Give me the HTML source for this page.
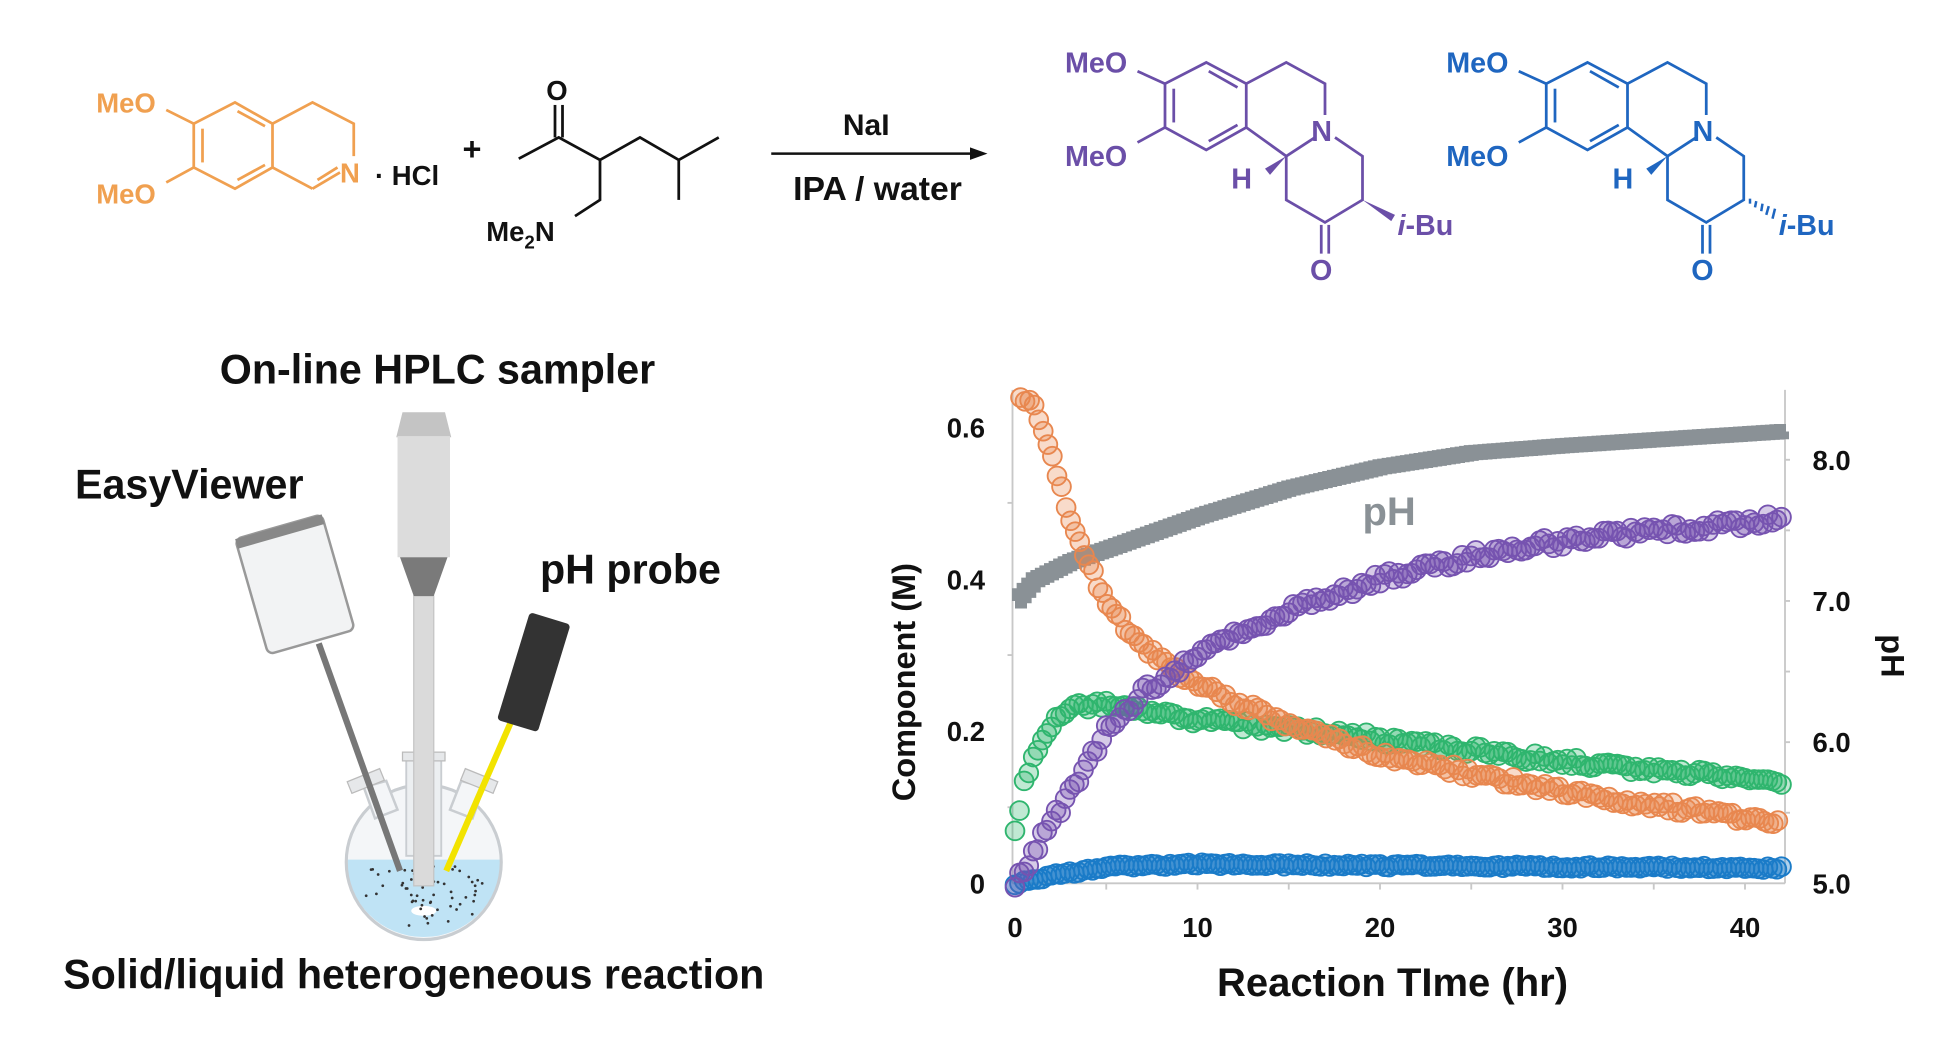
<!DOCTYPE html>
<html><head><meta charset="utf-8"><style>
html,body{margin:0;padding:0;background:#fff;}
svg{display:block;font-family:"Liberation Sans",Arial,sans-serif;font-weight:bold;}
</style></head><body>
<svg id="s" width="1950" height="1052" viewBox="0 0 1560 842" preserveAspectRatio="none" xmlns="http://www.w3.org/2000/svg">
<rect width="1560" height="842" fill="#fff"/>
<!-- orange reactant -->
<g stroke="#f0a050" stroke-width="2.2" fill="none">
<polygon points="155,99 188,82 218,99 218,134 188,151 155,134"/>
<line x1="162" y1="103" x2="162" y2="130"/><line x1="190" y1="89" x2="212" y2="101"/><line x1="190" y1="144" x2="212" y2="132"/>
<polyline points="218,99 250,82 283,99 283,125"/>
<line x1="218" y1="134" x2="250" y2="151"/><line x1="250" y1="151" x2="272" y2="138"/><line x1="254" y1="144" x2="270" y2="134"/>
<line x1="133" y1="88" x2="155" y2="99"/><line x1="133" y1="146" x2="155" y2="134"/>
</g>
<g fill="#f0a050" font-size="22"><text x="77" y="90">MeO</text><text x="77" y="163">MeO</text><text x="272" y="146">N</text></g>
<text x="300" y="148" font-size="22" fill="#111">· HCl</text>
<text x="370" y="128" font-size="26" fill="#111">+</text>
<!-- ketone -->
<g stroke="#111" stroke-width="2.2" fill="none">
<line x1="444" y1="84" x2="444" y2="110"/><line x1="450" y1="84" x2="450" y2="110"/>
<polyline points="415,127 447,110 480,128 512,110 543,128 575,110"/>
<line x1="543" y1="128" x2="543" y2="160"/>
<polyline points="480,128 480,160 460,173"/>
</g>
<text x="437" y="80" font-size="22" fill="#111">O</text>
<text x="389" y="193" font-size="22" fill="#111">Me<tspan font-size="15" dy="6">2</tspan><tspan dy="-6">N</tspan></text>
<!-- arrow -->
<line x1="617" y1="123" x2="780" y2="123" stroke="#111" stroke-width="2"/>
<polygon points="790,123 776,118 776,128" fill="#111"/>
<text x="693" y="108" font-size="24" fill="#111" text-anchor="middle">NaI</text>
<text x="702" y="160" font-size="27" fill="#111" text-anchor="middle">IPA / water</text>
<!-- products -->
<g stroke="#6b4fa8" stroke-width="2.2" fill="none">
<polygon points="932,67 965,50 997,67 997,102 965,120 932,102"/>
<line x1="939" y1="71" x2="939" y2="98"/><line x1="967" y1="57" x2="990" y2="70"/><line x1="967" y1="113" x2="990" y2="100"/>
<polyline points="997,67 1029,50 1060,67 1060,92"/>
<polyline points="1052,110 1029,125 997,102"/>
<polyline points="1068,110 1090,125 1090,160 1060,178 1029,160 1029,125"/>
<line x1="1057" y1="180" x2="1057" y2="203"/><line x1="1063" y1="180" x2="1063" y2="203"/>
<line x1="910" y1="57" x2="932" y2="67"/><line x1="910" y1="114" x2="932" y2="102"/>
</g>
<polygon points="1029,125 1012,135 1016,140" fill="#6b4fa8"/>
<polygon points="1090,160 1116,172 1113,177" fill="#6b4fa8"/>
<g fill="#6b4fa8" font-size="23"><text x="852" y="58">MeO</text><text x="852" y="133">MeO</text><text x="1049" y="113">N</text><text x="985" y="151">H</text><text x="1048" y="224">O</text><text x="1118" y="188"><tspan font-style="italic">i</tspan>-Bu</text></g>
<g transform="translate(305,0)">
<g stroke="#1f66c0" stroke-width="2.2" fill="none">
<polygon points="932,67 965,50 997,67 997,102 965,120 932,102"/>
<line x1="939" y1="71" x2="939" y2="98"/><line x1="967" y1="57" x2="990" y2="70"/><line x1="967" y1="113" x2="990" y2="100"/>
<polyline points="997,67 1029,50 1060,67 1060,92"/>
<polyline points="1052,110 1029,125 997,102"/>
<polyline points="1068,110 1090,125 1090,160 1060,178 1029,160 1029,125"/>
<line x1="1057" y1="180" x2="1057" y2="203"/><line x1="1063" y1="180" x2="1063" y2="203"/>
<line x1="910" y1="57" x2="932" y2="67"/><line x1="910" y1="114" x2="932" y2="102"/>
<g stroke-width="2"><line x1="1095" y1="159" x2="1095" y2="163"/><line x1="1100" y1="161" x2="1099" y2="166"/><line x1="1105" y1="163" x2="1104" y2="169"/><line x1="1110" y1="165" x2="1108" y2="172"/><line x1="1115" y1="167" x2="1113" y2="175"/></g>
</g>
<polygon points="1029,125 1012,135 1016,140" fill="#1f66c0"/>
<g fill="#1f66c0" font-size="23"><text x="852" y="58">MeO</text><text x="852" y="133">MeO</text><text x="1049" y="113">N</text><text x="985" y="151">H</text><text x="1048" y="224">O</text><text x="1118" y="188"><tspan font-style="italic">i</tspan>-Bu</text></g>
</g>
<!-- apparatus -->
<text x="350" y="307" font-size="33" fill="#111" text-anchor="middle">On-line HPLC sampler</text>
<text x="60" y="399" font-size="33" fill="#111">EasyViewer</text>
<text x="432" y="467" font-size="33" fill="#111">pH probe</text>
<text x="331" y="791" font-size="33" fill="#111" text-anchor="middle">Solid/liquid heterogeneous reaction</text>
<g>
<circle cx="339" cy="690" r="62" fill="#f4f6f8"/>
<path d="M277,688 L401,688 A62,62 0 0 1 277,688 Z" fill="#bfe3f5"/>
<circle cx="339" cy="690" r="62" fill="none" stroke="#c9cdd1" stroke-width="2.5"/>
<polygon points="291,630 309,625 318,648 300,655" fill="#f4f6f8" stroke="#c9cdd1" stroke-width="2"/>
<polygon points="369,625 387,630 378,655 360,648" fill="#f4f6f8" stroke="#c9cdd1" stroke-width="2"/>
<ellipse cx="339" cy="729" rx="10" ry="4" fill="#fff"/>
<rect x="325" y="605" width="28" height="80" fill="#eceff1" stroke="#c9cdd1" stroke-width="1.5"/>
<rect x="322" y="602" width="34" height="7" fill="#e6e8ea" stroke="#bbb"/>
<g transform="rotate(-22 293 626)"><rect x="279" y="620" width="28" height="10" fill="#e6e8ea" stroke="#bbb"/></g>
<g transform="rotate(22 383 626)"><rect x="369" y="620" width="28" height="10" fill="#e6e8ea" stroke="#bbb"/></g>
<g fill="#333" id="dots"></g>
<line x1="255" y1="515" x2="320" y2="697" stroke="#777" stroke-width="5"/>
<g transform="rotate(-16 235 468)"><rect x="200" y="420" width="72" height="96" rx="5" fill="#f2f3f4" stroke="#999" stroke-width="2"/><rect x="200" y="420" width="72" height="8" fill="#888"/></g>
<line x1="410" y1="575" x2="357" y2="697" stroke="#f2e300" stroke-width="5"/>
<g transform="rotate(17 427 538)"><rect x="410" y="493" width="34" height="90" rx="3" fill="#333"/></g>
<rect x="331" y="477" width="16" height="232" fill="#dadada" stroke="#c4c4c4"/>
<polygon points="322,330 356,330 361,350 317,350" fill="#c4c4c4"/>
<rect x="318" y="349" width="42" height="97" fill="#dcdcdc"/>
<polygon points="320,446 358,446 347,477 331,477" fill="#7a7a7a"/>
</g>
<!-- chart -->
<g stroke="#c8c8c8" stroke-width="1.5">
<line x1="810" y1="312" x2="810" y2="707"/><line x1="1428" y1="312" x2="1428" y2="707"/><line x1="810" y1="707" x2="1428" y2="707"/>
</g>
<g id="ticks" stroke="#c8c8c8" stroke-width="1.5"></g>
<g font-size="22" fill="#111" text-anchor="end"><text x="788" y="350">0.6</text><text x="788" y="472">0.4</text><text x="788" y="593">0.2</text><text x="788" y="715">0</text></g>
<g font-size="22" fill="#111"><text x="1450" y="376">8.0</text><text x="1450" y="489">7.0</text><text x="1450" y="602">6.0</text><text x="1450" y="715">5.0</text></g>
<g font-size="22" fill="#111" text-anchor="middle"><text x="812" y="750">0</text><text x="958" y="750">10</text><text x="1104" y="750">20</text><text x="1250" y="750">30</text><text x="1396" y="750">40</text></g>
<text x="1114" y="797" font-size="32" fill="#111" text-anchor="middle">Reaction TIme (hr)</text>
<text transform="translate(732,546) rotate(-90)" font-size="26" fill="#111" text-anchor="middle">Component (M)</text>
<text transform="translate(1505,525) rotate(90)" font-size="26" fill="#111" text-anchor="middle">pH</text>
<g id="series"></g>
<text x="1090" y="420" font-size="32" fill="#8a9196">pH</text>
</svg>
<script>
var NS="http://www.w3.org/2000/svg";
function el(t,a,p){var e=document.createElementNS(NS,t);for(var k in a)e.setAttribute(k,a[k]);p.appendChild(e);return e;}
function interp(pts,t){if(t<=pts[0][0])return pts[0][1];for(var i=1;i<pts.length;i++){if(t<=pts[i][0]){var a=pts[i-1],b=pts[i];return a[1]+(b[1]-a[1])*(t-a[0])/(b[0]-a[0]);}}return pts[pts.length-1][1];}
var X=function(t){return 812+t*14.6;},Y=function(v){return 707-v*609;},YP=function(p){return 707-(p-5)*113;};
var ticks=document.getElementById('ticks');
[0.1,0.3,0.5].forEach(function(v){el('line',{x1:806,x2:810,y1:Y(v),y2:Y(v)},ticks);});
for(var p=5.5;p<8.5;p+=0.5)el('line',{x1:1428,x2:1432,y1:YP(p),y2:YP(p)},ticks);
for(var t=5;t<=40;t+=5)el('line',{x1:X(t),x2:X(t),y1:707,y2:712},ticks);
var ser=document.getElementById('series');
var d="";for(var t=0;t<=42;t+=0.25){var v=interp([[0,7.0],[1,7.15],[3,7.28],[5,7.37],[10,7.6],[15,7.8],[20,7.95],[25,8.05],[30,8.1],[42,8.2]],t);var y=YP(v);d+=(t==0?"M":"L")+X(t).toFixed(1)+","+y.toFixed(1)+" L"+X(t+0.25).toFixed(1)+","+y.toFixed(1)+" ";}
el('path',{d:d,fill:'none',stroke:'#8a9196','stroke-width':12},ser);
var seed=1;function rnd(){seed=(seed*16807)%2147483647;return seed/2147483647-0.5;}
var S=[
{c:'#1a7bc8',f:'rgba(26,123,200,0.35)',p:[[0,0],[2,0.01],[5,0.022],[10,0.025],[42,0.02]],t0:0,n:0.004},
{c:'#2fb56e',f:'rgba(47,181,110,0.3)',p:[[0,0.07],[0.5,0.13],[1,0.17],[2,0.21],[3,0.23],[5,0.235],[8,0.22],[12,0.21],[20,0.19],[30,0.16],[42,0.135]],t0:0,n:0.012},
{c:'#e8874f',f:'rgba(232,135,79,0.3)',p:[[0.3,0.64],[1,0.63],[2,0.56],[3,0.48],[4,0.42],[5,0.37],[7,0.31],[10,0.26],[15,0.21],[20,0.17],[30,0.12],[42,0.08]],t0:0.3,n:0.012},
{c:'#7653b0',f:'rgba(118,83,176,0.3)',p:[[0,0],[1,0.04],[3,0.12],[5,0.2],[7,0.25],[10,0.3],[15,0.36],[20,0.4],[25,0.43],[30,0.45],[42,0.48]],t0:0,n:0.015}];
S.forEach(function(s){for(var t=s.t0;t<=42;t+=0.25){var v=interp(s.p,t)+rnd()*s.n;el('circle',{cx:X(t).toFixed(1),cy:Y(v).toFixed(1),r:7.5,fill:s.f,stroke:s.c,'stroke-width':1.5},ser);}});
var dots=document.getElementById('dots');
for(var i=0;i<70;i++){var x=285+rnd()*2*0+ (rnd()+0.5)*108, y=692+(rnd()+0.5)*50;var dx=x-339,dy=y-690;if(dx*dx+dy*dy<3300)el('circle',{cx:x,cy:y,r:1.1},dots);}
</script>
</body></html>
